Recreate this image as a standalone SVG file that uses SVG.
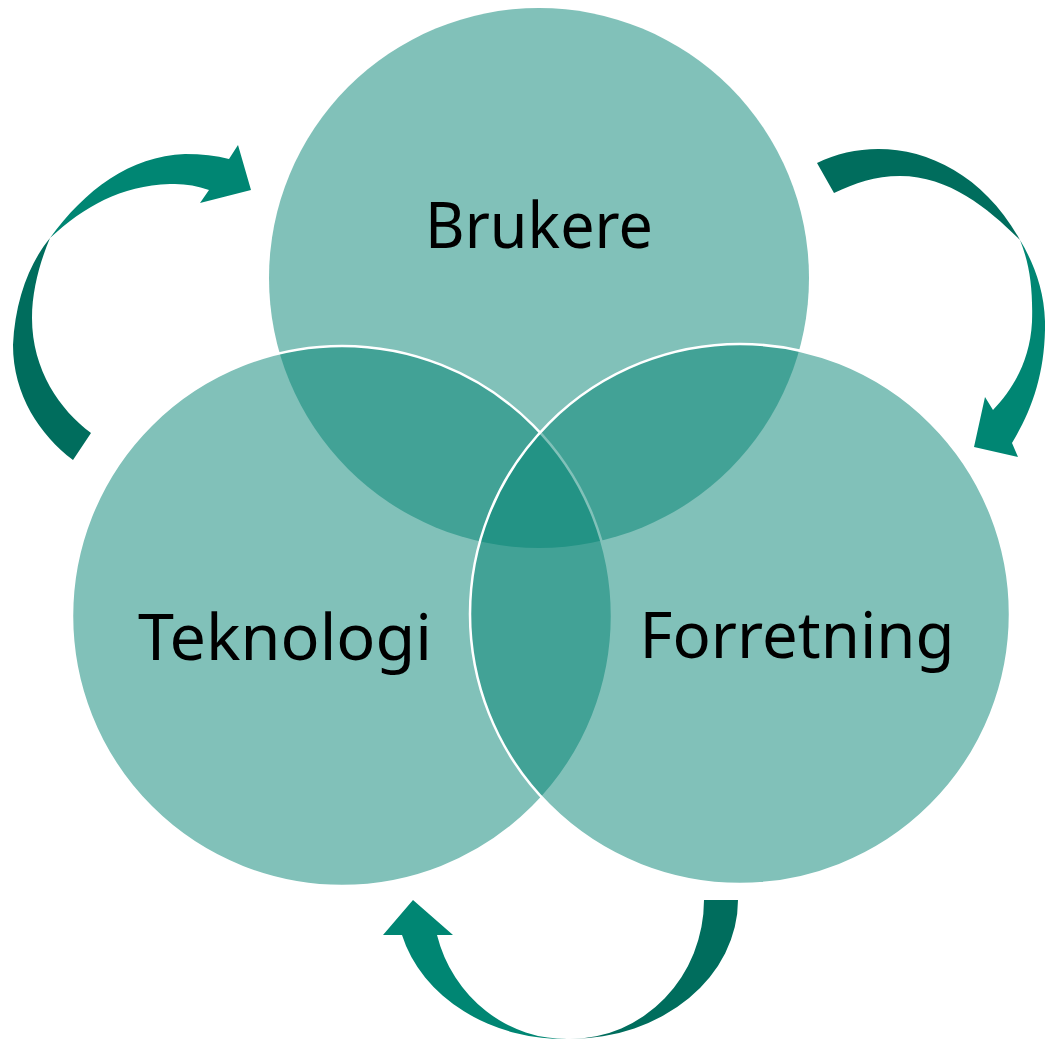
<svg xmlns="http://www.w3.org/2000/svg" width="1045" height="1040" viewBox="0 0 1045 1040">
<style>
.c{fill:rgb(4,131,116);fill-opacity:0.5}
.s{stroke:#ffffff;stroke-width:2.5}
.lbl{font-family:"Noto Sans","Open Sans",sans-serif;font-size:64px;fill:#000000;text-anchor:middle}
.dk{fill:#006D5D}
.lt{fill:#008673}
</style>
<rect width="1045" height="1040" fill="#ffffff"/>
<g id="node-brukere">
<circle class="c" cx="539" cy="278" r="270"/>
<text class="lbl" x="539" y="248" textLength="228" lengthAdjust="spacingAndGlyphs">Brukere</text>
</g>
<g id="node-teknologi">
<circle class="c s" cx="342" cy="616" r="270"/>
<text class="lbl" x="285" y="660" textLength="294" lengthAdjust="spacingAndGlyphs">Teknologi</text>
</g>
<g id="node-forretning">
<circle class="c s" cx="740" cy="614" r="270"/>
<text class="lbl" x="797" y="658" textLength="315" lengthAdjust="spacingAndGlyphs">Forretning</text>
</g>
<g id="connectors">
<path class="lt" d="M50,238 C85,190 130,156 185,154 Q210,154 229,159 L238,145 L251,190 L200,203 L209,190 Q190,183 170,184 C120,186 85,206 50,238 Z"/>
<path class="dk" d="M50,238 C30,262 15,300 13,345 C13,395 40,435 73,460 L91,433 C60,410 32,370 32,318 C32,290 40,262 50,238 Z"/>
<path class="dk" d="M817,163 C880,132 970,150 1020,240 C990,210 950,176 900,176 C875,176 855,183 834,193 Z"/>
<path class="lt" d="M1020,240 C1035,265 1046,295 1045,330 C1044,375 1032,410 1012,443 L1018,457 L974,447 L985,397 L993,410 C1012,390 1030,362 1032,322 C1033,290 1030,265 1020,240 Z"/>
<path class="dk" d="M738,900 A168,139 0 0 1 570,1039 A134,139 0 0 0 704,900 Z"/>
<path class="lt" d="M570,1039 A168,139 0 0 1 402,935 L383,935 L413,900 L453,935 L437,935 A134,139 0 0 0 570,1039 Z"/>
</g>
</svg>
